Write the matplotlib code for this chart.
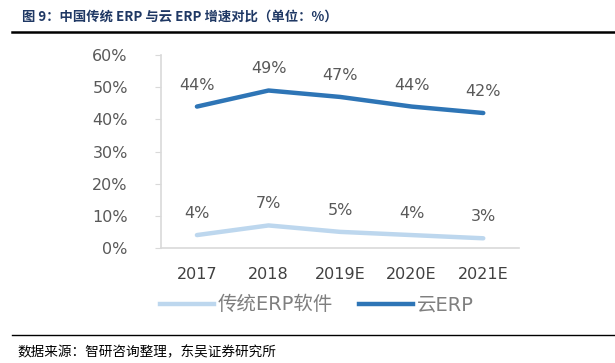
import matplotlib
matplotlib.use("Agg")
import matplotlib.pyplot as plt
from matplotlib.lines import Line2D

plt.rcParams['font.family'] = ['DejaVu Sans', 'Noto Sans CJK SC']

years = ['2017', '2018', '2019E', '2020E', '2021E']
traditional = [4, 7, 5, 4, 3]
cloud = [44, 49, 47, 44, 42]
y_ticks = [0, 10, 20, 30, 40, 50, 60]

c_cloud = '#2E75B6'
c_trad = '#BDD7EE'
c_text = '#595959'
cjk = ['Noto Sans CJK SC', 'DejaVu Sans']

fig = plt.figure(figsize=(6.15, 3.63), dpi=100)
ax = fig.add_axes([0.262, 0.317, 0.582, 0.531])

x = range(len(years))
ax.plot(x, traditional, color=c_trad, lw=3.2, solid_capstyle='round')
ax.plot(x, cloud, color=c_cloud, lw=3.2, solid_capstyle='round')

# data labels above each point
for series in (traditional, cloud):
    for i, v in enumerate(series):
        ax.annotate(f'{v}%', (i, v), xytext=(0, 15.5), textcoords='offset points',
                    ha='center', va='center', fontsize=11.5, color=c_text)

ax.set_xlim(-0.5, len(years) - 0.5)
ax.set_ylim(0, 60)
ax.set_yticks(y_ticks)
ax.set_yticklabels([f'{t}%' for t in y_ticks])
ax.set_xticks(list(x))
ax.set_xticklabels(years)
ax.tick_params(axis='y', length=4, color='#D9D9D9', labelsize=11.5,
               labelcolor=c_text, pad=20)
ax.tick_params(axis='x', length=0, labelsize=11.5, labelcolor='#404040', pad=14)
for s in ['top', 'right']:
    ax.spines[s].set_visible(False)
for s in ['left', 'bottom']:
    ax.spines[s].set_color('#D9D9D9')
    ax.spines[s].set_linewidth(1.2)

handles = [Line2D([], [], color=c_trad, lw=3.2),
           Line2D([], [], color=c_cloud, lw=3.2)]
leg = fig.legend(handles, ['传统ERP软件', '云ERP'], loc='center',
                 bbox_to_anchor=(0.515, 0.16), ncol=2, frameon=False,
                 handlelength=2.8, columnspacing=1.3, handletextpad=0.2,
                 prop={'family': ['DejaVu Sans', 'Noto Sans CJK SC'], 'size': 14})
for t in leg.get_texts():
    t.set_color('#7F7F7F')

fig.text(0.036, 0.953, '图 9：中国传统 ERP 与云 ERP 增速对比（单位：%）',
         family=cjk, fontsize=9.6, fontweight='bold', color='#1F3864',
         va='center', ha='left')
fig.add_artist(Line2D([0.02, 1.0], [0.912, 0.912], color='black', lw=1.8))
fig.add_artist(Line2D([0.02, 1.0], [0.077, 0.077], color='black', lw=1.0))
fig.text(0.029, 0.03, '数据来源：智研咨询整理，东吴证券研究所',
         family=cjk, fontsize=9.8, color='black', va='center', ha='left')

fig.savefig('out.png', dpi=100)
